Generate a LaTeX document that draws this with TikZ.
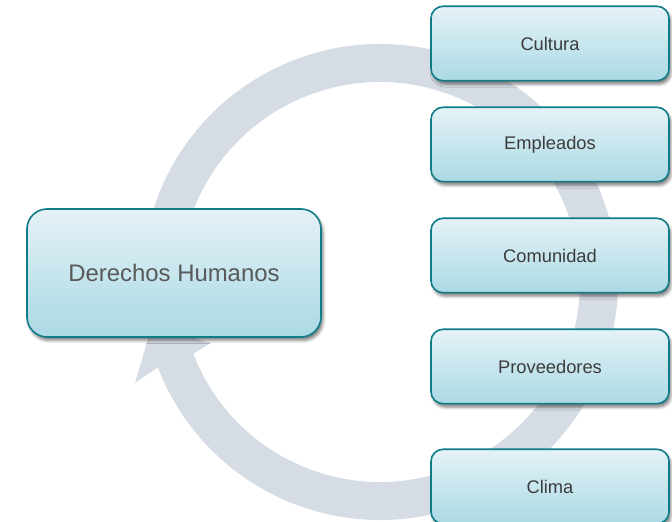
\documentclass[tikz,border=0pt]{standalone}
\usepackage{fontspec}
\setmainfont{Liberation Sans}
\usetikzlibrary{positioning,shadows.blur}
\definecolor{ringgray}{RGB}{214,220,228}
\definecolor{boxtop}{RGB}{229,242,247}
\definecolor{boxbottom}{RGB}{170,217,228}
\definecolor{boxedge}{RGB}{16,124,136}
\definecolor{smalltext}{RGB}{60,60,60}
\definecolor{bigtext}{RGB}{89,89,89}
\begin{document}
\begin{tikzpicture}[x=1pt, y=1pt, node distance=25pt,
    topic/.style = {draw=boxedge, line width=1.6pt, rounded corners=12pt,
        top color=boxtop, bottom color=boxbottom,
        minimum width=238pt, minimum height=74.4pt,
        font=\fontsize{18.3}{22}\selectfont, text=smalltext,
        blur shadow={shadow xshift=2pt, shadow yshift=-3.5pt, shadow blur radius=3pt, shadow opacity=50}},
    hub/.style = {topic, rounded corners=20pt, minimum width=294pt, minimum height=128pt,
        font=\fontsize{23.9}{28}\selectfont, text=bigtext}]
    \useasboundingbox (0,0) rectangle (672,522);
    % circular arrow behind the boxes
    \begin{scope}[shift={(380,240)}]
        \fill[ringgray] (170:238pt) arc[start angle=170, end angle=-159, radius=238pt]
            -- (-157.6:265pt) -- (-169.3:232pt) -- (-160.2:180pt)
            -- (-159:200pt) arc[start angle=-159, end angle=170, radius=200pt] -- cycle;
    \end{scope}
    \node[hub] (derechos) at (174,249) {Derechos Humanos};
    \node[topic] (cultura) at (550,478.5) {Cultura};
    \node[topic] (empleados) [below=25pt of cultura] {Empleados};
    \node[topic] (comunidad) [below=35pt of empleados] {Comunidad};
    \node[topic] (proveedores) [below=35pt of comunidad] {Proveedores};
    \node[topic] (clima) [below=44pt of proveedores] {Clima};
\end{tikzpicture}
\end{document}
